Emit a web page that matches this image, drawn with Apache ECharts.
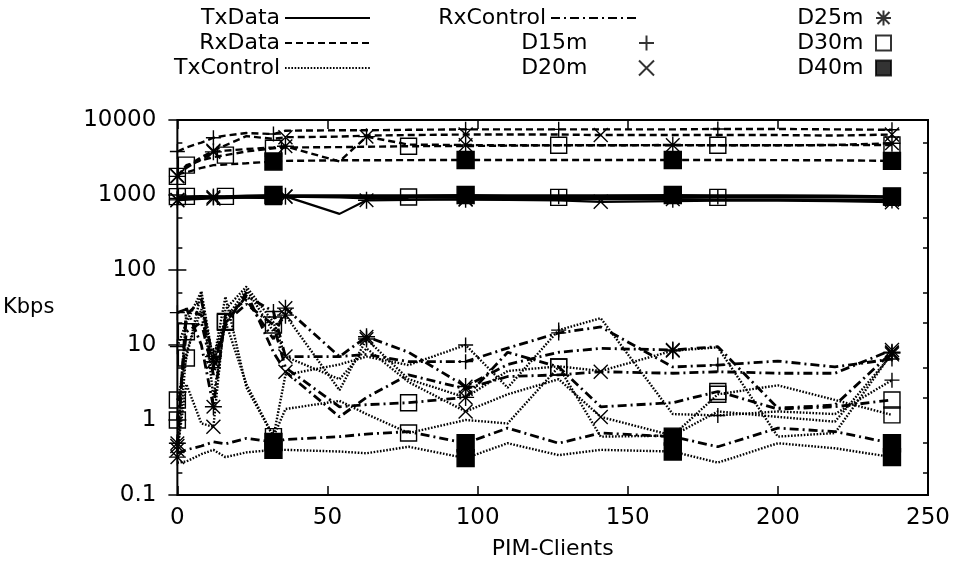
<!DOCTYPE html>
<html>
<head>
<meta charset="utf-8">
<script src="https://cdn.jsdelivr.net/npm/echarts@6/dist/echarts.min.js"></script>
<style>html,body{margin:0;background:#fff}#main{width:959px;height:570px}</style>
</head>
<body>
<div id="main"></div>
<script>
// x 轴：客户端数量
var clients = [0, 3, 8, 12, 16, 23, 32, 36, 54, 63, 77, 96, 110, 127, 141, 165, 180, 200, 219, 238];
var xTicks = [0, 50, 100, 150, 200, 250];
var yTicks = [0.1, 1, 10, 100, 1000, 10000];
var yMinorTicks = [0.2, 0.5, 2, 5, 20, 50, 200, 500, 2000, 5000];

// D15m
var d15TxData    = [900, 910, 920, 930, 940, 950, 950, 950, 950, 950, 940, 960, 950, 950, 950, 950, 940, 950, 950, 930];
var d15RxData    = [3800, 4300, 5000, 5800, 6200, 6700, 6500, 7200, 7300, 7300, 7400, 7500, 7500, 7500, 7500, 7500, 7600, 7600, 7500, 7400];
var d15TxControl = [9.5, 20, 52, 6, 44, 2.7, 0.6, 4, 5.5, 7, 5.4, 10, 2.7, 15.8, 22.8, 1.2, 1.15, 1.3, 1.2, 3.4];
var d15RxControl = [27, 30, 25, 5, 20, 45, 28, 7, 7, 7.5, 6, 6, 9.1, 14.5, 17.4, 5.1, 5.4, 6.1, 5.1, 6.5];
// D20m
var d20TxData    = [850, 870, 890, 900, 910, 920, 930, 950, 930, 900, 880, 870, 860, 850, 810, 830, 840, 840, 830, 800];
var d20RxData    = [1800, 2400, 3200, 3900, 4600, 6100, 5600, 5900, 6000, 6200, 6300, 6400, 6400, 6400, 6300, 6300, 6300, 6300, 6200, 6400];
var d20TxControl = [0.4, 3, 0.9, 0.81, 30, 60, 20, 7, 3.5, 9, 3.2, 1.3, 2.2, 3.5, 1.1, 0.62, 1.3, 1.1, 0.95, 7.5];
var d20RxControl = [0.45, 25, 40, 6, 18, 50, 8, 4.4, 1.1, 2.0, 4, 2.6, 3.8, 4.0, 4.4, 4.2, 4.4, 4.2, 4.2, 8.6];
// D25m
var d25TxData    = [860, 880, 900, 940, 930, 920, 910, 960, 560, 850, 860, 880, 880, 890, 880, 880, 870, 870, 860, 860];
var d25RxData    = [1770, 2300, 3000, 3760, 3900, 4100, 4300, 4460, 2800, 6000, 4700, 4640, 4600, 4600, 4600, 4640, 4600, 4600, 4650, 4900];
var d25TxControl = [0.32, 8, 30, 7, 22, 55, 15, 25, 2.5, 12, 3.5, 2.0, 4.5, 5.2, 4.5, 8.4, 9.3, 0.6, 0.67, 7.8];
var d25RxControl = [0.49, 31, 10, 1.5, 25, 40, 12, 31, 7, 12.9, 8, 2.8, 5.5, 8, 9, 8.6, 9.5, 1.44, 1.58, 8.0];
// D30m
var d30TxData    = [950, 960, 970, 960, 960, 950, 950, 940, 940, 940, 940, 930, 930, 930, 930, 930, 930, 930, 930, 930];
var d30RxData    = [1770, 2500, 2900, 3200, 3400, 3800, 4200, 4300, 4350, 4400, 4470, 4500, 4550, 4600, 4600, 4600, 4600, 4600, 4620, 4640];
var d30TxControl = [1.85, 6.7, 50, 2, 20.6, 3, 0.6, 1.4, 1.8, 1.2, 0.67, 1.0, 0.9, 5.1, 0.6, 0.62, 2.2, 2.9, 1.85, 1.17];
var d30RxControl = [1.0, 15, 20, 4, 20, 35, 18.5, 5, 1.5, 1.6, 1.7, 2.0, 8, 5.1, 1.5, 1.7, 2.4, 1.4, 1.5, 1.85];
// D40m
var d40TxData    = [920, 930, 940, 950, 960, 980, 1000, 990, 990, 990, 990, 1000, 990, 990, 990, 1000, 990, 990, 980, 960];
var d40RxData    = [1900, 2000, 2300, 2500, 2550, 2650, 2800, 2850, 2900, 2900, 2920, 2930, 2930, 2930, 2930, 2930, 2930, 2920, 2900, 2850];
var d40TxControl = [0.27, 0.28, 0.35, 0.40, 0.32, 0.37, 0.40, 0.40, 0.38, 0.36, 0.44, 0.31, 0.49, 0.34, 0.40, 0.38, 0.27, 0.49, 0.42, 0.32];
var d40RxControl = [0.36, 0.40, 0.45, 0.51, 0.48, 0.57, 0.51, 0.55, 0.60, 0.65, 0.70, 0.49, 0.78, 0.49, 0.67, 0.60, 0.44, 0.78, 0.70, 0.49];

// 哪些点画标记（下标）
var d15Marks = [0, 3, 6, 11, 13, 16, 19];
var d20Marks = [0, 3, 7, 11, 14, 19];
var d25Marks = [0, 3, 7, 9, 11, 15, 19];
var d30Marks = [0, 1, 4, 6, 10, 13, 16, 19];
var d40Marks = [6, 11, 15, 19];

var plusPath   = 'path://M0,5L10,5M5,0L5,10';
var crossPath  = 'path://M0,0L10,10M10,0L0,10';
var starPath   = 'path://M0,5L10,5M5,0L5,10M1,1L9,9M9,1L1,9';
var squarePath = 'path://M0,0L10,0L10,10L0,10Z';
var fillPath   = 'path://M0,0L10,0L10,10L0,10Z';

var distances = [
    {name: 'D15m', symbol: plusPath,   size: 15, fill: 'transparent', marks: d15Marks, data: [d15TxData, d15RxData, d15TxControl, d15RxControl]},
    {name: 'D20m', symbol: crossPath,  size: 14, fill: 'transparent', marks: d20Marks, data: [d20TxData, d20RxData, d20TxControl, d20RxControl]},
    {name: 'D25m', symbol: starPath,   size: 17, fill: 'transparent', marks: d25Marks, data: [d25TxData, d25RxData, d25TxControl, d25RxControl]},
    {name: 'D30m', symbol: squarePath, size: 16, fill: 'transparent', marks: d30Marks, data: [d30TxData, d30RxData, d30TxControl, d30RxControl]},
    {name: 'D40m', symbol: fillPath,   size: 17, fill: '#000',        marks: d40Marks, data: [d40TxData, d40RxData, d40TxControl, d40RxControl]}
];
var types = [
    {name: 'TxData',    dash: 'solid',      width: 2.2},
    {name: 'RxData',    dash: [7, 4],       width: 2.4},
    {name: 'TxControl', dash: [1.6, 1.6],   width: 2.4},
    {name: 'RxControl', dash: [9, 4, 2, 4], width: 2.8}
];

var font = 'DejaVu Sans';
var series = [];

distances.forEach(function(d){
    types.forEach(function(t, k){
        var values = d.data[k];
        var points = clients.map(function(x, i){
            return {
                value: [x, values[i]],
                symbol: d.marks.indexOf(i) >= 0 ? d.symbol : 'none'
            };
        });
        series.push({
            name: d.name + ' ' + t.name,
            type: 'line',
            data: points,
            symbolSize: d.size,
            symbolKeepAspect: true,
            showAllSymbol: true,
            itemStyle: {color: d.fill, borderColor: '#000', borderWidth: 1.4},
            lineStyle: {color: '#000', width: t.width, type: t.dash},
            emphasis: {disabled: true},
            z: d.name === 'D40m' ? 3 : 2
        });
    });
});

// 图例用的空系列
types.forEach(function(t){
    series.push({
        name: t.name, type: 'line', data: [], symbol: 'none', symbolSize: 0,
        itemStyle: {color: '#000', opacity: 0},
        lineStyle: {color: '#000', width: 1.6, type: t.dash}
    });
});
distances.forEach(function(d){
    series.push({
        name: d.name, type: 'scatter', data: [], symbol: d.symbol, symbolKeepAspect: true,
        itemStyle: {color: d.fill, borderColor: '#000', borderWidth: 1.2}
    });
});

// 图例位置：三列
var legendItems = [
    {name: 'TxData',    right: 583, top: 2,  width: 85},
    {name: 'RxData',    right: 583, top: 27, width: 85},
    {name: 'TxControl', right: 583, top: 52, width: 85},
    {name: 'RxControl', right: 316, top: 2,  width: 86},
    {name: 'D15m',      right: 299, top: 27, width: 108},
    {name: 'D20m',      right: 299, top: 52, width: 108},
    {name: 'D25m',      right: 62,  top: 2,  width: 30},
    {name: 'D30m',      right: 62,  top: 27, width: 30},
    {name: 'D40m',      right: 62,  top: 52, width: 30}
];
var legends = legendItems.map(function(l){
    return {
        data: [l.name], right: l.right, top: l.top, align: 'right',
        itemWidth: l.width, itemHeight: 15, selectedMode: false,
        symbolKeepAspect: true,
        textStyle: {fontFamily: font, fontSize: 22, color: '#000'}
    };
});

function yAxisDef(pos, ticks, len, showLabel){
    return {
        type: 'log', logBase: 10, min: 0.1, max: 10000, position: pos,
        axisLine: {show: false},
        splitLine: {show: false},
        axisTick: {inside: true, length: len, customValues: ticks, lineStyle: {color: '#000', width: 1.5}},
        axisLabel: {show: showLabel, customValues: ticks, margin: 21, fontFamily: font, fontSize: 23, color: '#000',
            formatter: function(v){ return String(v); }}
    };
}

var yMain = yAxisDef('left', yTicks, 9, true);
yMain.name = 'Kbps';
yMain.nameLocation = 'middle';
yMain.nameRotate = 0;
yMain.nameGap = 123;
yMain.nameTextStyle = {fontFamily: font, fontSize: 21, color: '#000'};

var myChart = echarts.init(document.getElementById('main'));
var option = {
    animation: false,
    grid: {left: 173, right: 31, top: 120, bottom: 75, show: true, borderColor: '#000', borderWidth: 2},
    legend: legends,
    xAxis: [
        {
            type: 'value', min: 0, max: 250, interval: 50, position: 'bottom',
            name: 'PIM-Clients', nameLocation: 'middle', nameGap: 43,
            nameTextStyle: {fontFamily: font, fontSize: 22, color: '#000'},
            axisLine: {show: false}, splitLine: {show: false},
            axisTick: {inside: true, length: 9, customValues: xTicks, lineStyle: {color: '#000', width: 1.5}},
            axisLabel: {customValues: xTicks, margin: 12, fontFamily: font, fontSize: 23, color: '#000'}
        },
        {
            type: 'value', min: 0, max: 250, interval: 50, position: 'top',
            axisLine: {show: false}, splitLine: {show: false},
            axisTick: {inside: true, length: 9, customValues: xTicks, lineStyle: {color: '#000', width: 1.5}},
            axisLabel: {show: false}
        }
    ],
    yAxis: [
        yMain,
        yAxisDef('right', yTicks, 9, false),
        yAxisDef('left', yMinorTicks, 5, false),
        yAxisDef('right', yMinorTicks, 5, false)
    ],
    series: series
};
myChart.setOption(option);
</script>
</body>
</html>
